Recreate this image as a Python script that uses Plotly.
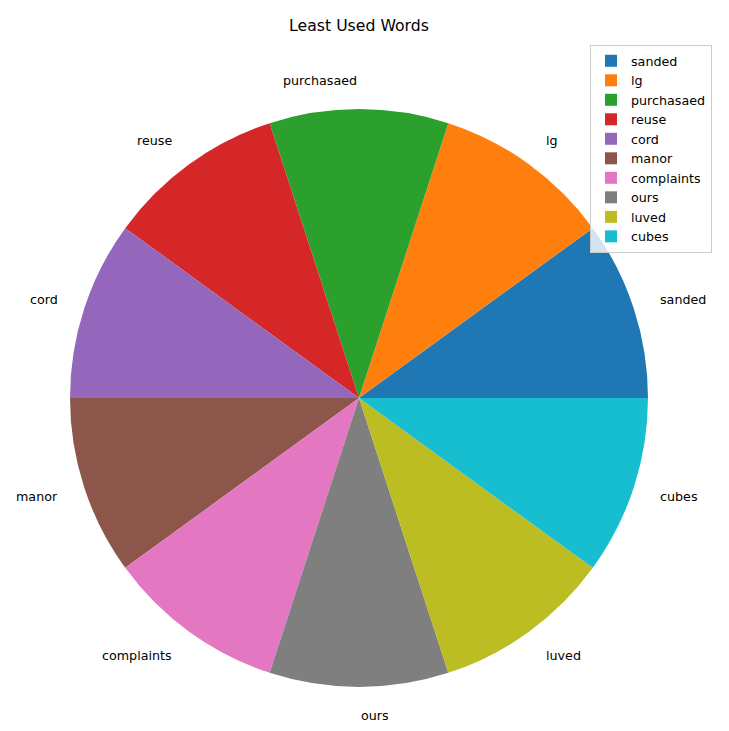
import numpy as np
import plotly.graph_objects as go

labels = ["sanded", "lg", "purchasaed", "reuse", "cord", "manor",
          "complaints", "ours", "luved", "cubes"]
values = [1, 1, 1, 1, 1, 1, 1, 1, 1, 1]
colors = ["#1f77b4", "#ff7f0e", "#2ca02c", "#d62728", "#9467bd",
          "#8c564b", "#e377c2", "#7f7f7f", "#bcbd22", "#17becf"]

W, H = 729, 731
cx, cy, r = 359, 398, 289
total = float(sum(values))

fig = go.Figure()
fig.add_trace(go.Pie(
    labels=labels, values=values, sort=False,
    direction="counterclockwise", rotation=90 - 360 * values[0] / total,
    marker=dict(colors=colors, line=dict(width=0)),
    textinfo="none", hoverinfo="label",
    domain=dict(x=[(cx - r) / W, (cx + r) / W],
                y=[(H - cy - r) / H, (H - cy + r) / H]),
))

# matplotlib-style labels at 1.1 * radius
theta1 = 0.0
annotations = []
for lab, v in zip(labels, values):
    theta2 = theta1 + v / total
    thetam = 2 * np.pi * 0.5 * (theta1 + theta2)
    c, s = np.cos(thetam), np.sin(thetam)
    if abs(c) < 1e-9:
        anchor = "right" if s > 0 else "left"
    else:
        anchor = "left" if c > 0 else "right"
    annotations.append(dict(
        x=(cx + r * 1.1 * c) / W, y=(H - cy + r * 1.1 * s) / H,
        xref="paper", yref="paper", text=lab, showarrow=False,
        xanchor=anchor, yanchor="middle", xshift=-3 * c,
        font=dict(family="DejaVu Sans", size=12.7, color="#000000"),
    ))
    theta1 = theta2

fig.update_layout(
    width=W, height=H,
    margin=dict(l=0, r=0, t=0, b=0),
    paper_bgcolor="white", plot_bgcolor="white",
    title=dict(text="Least Used Words", x=cx / W, xanchor="center",
               y=1 - 26 / H, yanchor="middle",
               font=dict(family="DejaVu Sans", size=15.7, color="#000000")),
    annotations=annotations,
    legend=dict(x=712 / W, xanchor="right", y=1 - 45 / H, yanchor="top",
                bordercolor="#cccccc", borderwidth=1, bgcolor="rgba(255,255,255,0.8)",
                font=dict(family="DejaVu Sans", size=12.7, color="#000000"),
                tracegroupgap=0),
    font=dict(family="DejaVu Sans"),
)

fig.write_html("out.html")
